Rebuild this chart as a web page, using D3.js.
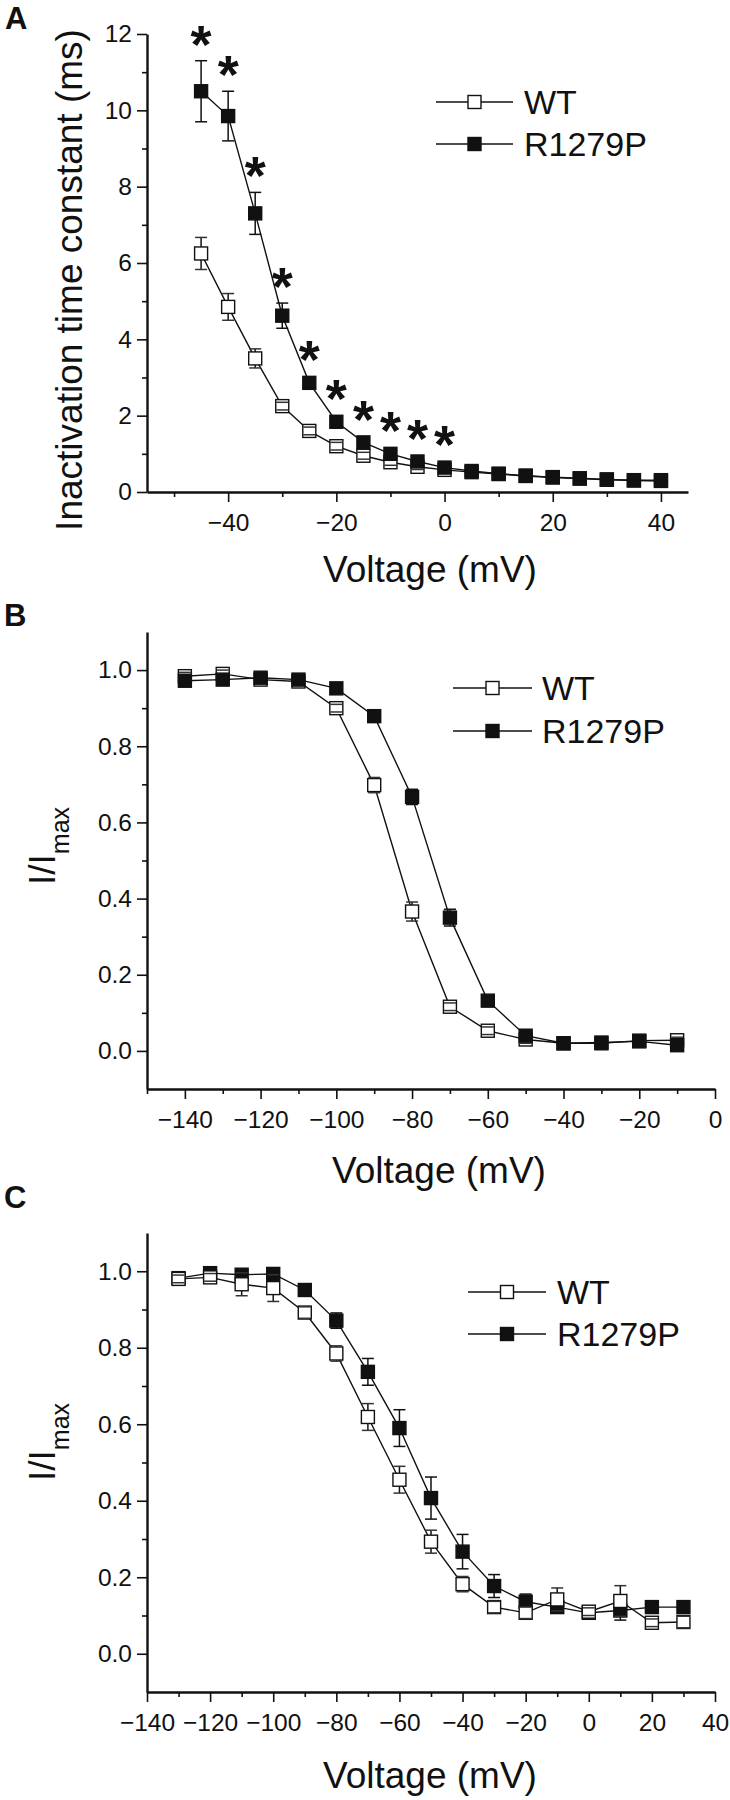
<!DOCTYPE html>
<html>
<head>
<meta charset="utf-8">
<script src="https://cdn.jsdelivr.net/npm/d3@7"></script>
<style>
  html, body { margin: 0; padding: 0; background: #fff; }
  svg { display: block; }
  text { font-family: "Liberation Sans", Arial, Helvetica, sans-serif; fill: #111; }
</style>
</head>
<body>
<svg id="chart" width="730" height="1800"></svg>
<script>
// ---------------- DATA ----------------
// Panel A: inactivation time constant (ms)
const voltA = [-45, -40, -35, -30, -25, -20, -15, -10, -5, 0, 5, 10, 15, 20, 25, 30, 35, 40];
const tauWT = [6.25, 4.85, 3.5, 2.25, 1.6, 1.2, 0.95, 0.78, 0.66, 0.58, 0.52, 0.47, 0.42, 0.38, 0.35, 0.32, 0.3, 0.29];
const tauWTErr = [0.42, 0.35, 0.25, 0.1, 0.1, 0.1, 0.09, 0.08, 0.07, 0.06, 0.04, 0.04, 0.03, 0.03, 0.03, 0.03, 0.03, 0.03];
const tauMut = [10.5, 9.85, 7.3, 4.62, 2.86, 1.84, 1.3, 1.0, 0.8, 0.64, 0.55, 0.48, 0.43, 0.39, 0.36, 0.33, 0.31, 0.31];
const tauMutErr = [0.8, 0.65, 0.55, 0.33, 0.12, 0.08, 0.08, 0.06, 0.05, 0.05, 0.04, 0.04, 0.04, 0.04, 0.04, 0.04, 0.04, 0.04];
const sigVoltA = [-45, -40, -35, -30, -25, -20, -15, -10, -5, 0];
const ticksA_x = [-40, -20, 0, 20, 40];
const minorA_x = [-50, -30, -10, 10, 30];
const ticksA_y = [0, 2, 4, 6, 8, 10, 12];
const minorA_y = [1, 3, 5, 7, 9, 11];

// Panel B: steady-state inactivation (I/Imax)
const voltB = [-140, -130, -120, -110, -100, -90, -80, -70, -60, -50, -40, -30, -20, -10];
const inactWT = [0.984, 0.99, 0.975, 0.97, 0.90, 0.698, 0.366, 0.116, 0.053, 0.03, 0.02, 0.02, 0.027, 0.028];
const inactWTErr = [0.01, 0.01, 0.01, 0.01, 0.01, 0.02, 0.025, 0.01, 0.01, 0.01, 0.008, 0.008, 0.008, 0.008];
const inactMut = [0.972, 0.975, 0.98, 0.975, 0.952, 0.879, 0.667, 0.35, 0.132, 0.04, 0.02, 0.022, 0.025, 0.015];
const inactMutErr = [0.01, 0.01, 0.008, 0.008, 0.008, 0.01, 0.02, 0.022, 0.01, 0.01, 0.008, 0.008, 0.008, 0.008];
const ticksB_x = [-140, -120, -100, -80, -60, -40, -20, 0];
const minorB_x = [-150, -130, -110, -90, -70, -50, -30, -10];

// Panel C: recovery / availability (I/Imax)
const voltC = [-130, -120, -110, -100, -90, -80, -70, -60, -50, -40, -30, -20, -10, 0, 10, 20, 30];
const recWT = [0.98, 0.984, 0.966, 0.956, 0.892, 0.785, 0.619, 0.455, 0.293, 0.182, 0.122, 0.107, 0.142, 0.11, 0.138, 0.081, 0.083];
const recWTErr = [0.01, 0.01, 0.03, 0.035, 0.015, 0.02, 0.035, 0.035, 0.03, 0.02, 0.015, 0.015, 0.03, 0.01, 0.04, 0.01, 0.015];
const recMut = [0.982, 0.995, 0.991, 0.993, 0.951, 0.871, 0.737, 0.59, 0.407, 0.267, 0.177, 0.136, 0.122, 0.107, 0.113, 0.122, 0.122];
const recMutErr = [0.01, 0.01, 0.01, 0.01, 0.01, 0.02, 0.035, 0.048, 0.055, 0.045, 0.03, 0.02, 0.015, 0.01, 0.025, 0.01, 0.01];
const ticksC_x = [-140, -120, -100, -80, -60, -40, -20, 0, 20, 40];
const minorC_x = [-130, -110, -90, -70, -50, -30, -10, 10, 30];

const ticksBC_y = [0, 0.2, 0.4, 0.6, 0.8, 1.0];
const minorBC_y = [0.1, 0.3, 0.5, 0.7, 0.9];

const seriesNames = ["WT", "R1279P"];

// ---------------- DRAWING ----------------
const svg = d3.select("#chart");
svg.append("rect").attr("width", 730).attr("height", 1800).attr("fill", "#fff");

const MK = 13;        // marker side
const CAP = 12;       // error cap width

function drawAxes(g, x, y, o) {
  const [x0, x1] = x.range();
  const [y0, y1] = y.range();
  g.append("g").attr("transform", `translate(0,${y0})`)
    .call(d3.axisBottom(x).tickValues(o.minorX).tickSize(5).tickFormat(""))
    .call(s => s.select(".domain").remove());
  g.append("g").attr("transform", `translate(${x0},0)`)
    .call(d3.axisLeft(y).tickValues(o.minorY).tickSize(5).tickFormat(""))
    .call(s => s.select(".domain").remove());
  const ax = g.append("g").attr("transform", `translate(0,${y0})`)
    .call(d3.axisBottom(x).tickValues(o.ticksX).tickSize(10).tickSizeOuter(0).tickPadding(12).tickFormat(d3.format("d")));
  const ay = g.append("g").attr("transform", `translate(${x0},0)`)
    .call(d3.axisLeft(y).tickValues(o.ticksY).tickSize(10).tickSizeOuter(0).tickPadding(5).tickFormat(o.fmtY));
  g.selectAll(".tick line").attr("stroke", "#111").attr("stroke-width", 1.6);
  g.selectAll(".domain").attr("stroke", "#111").attr("stroke-width", 2.4);
  [ax, ay].forEach(a => a.selectAll(".tick text").attr("font-size", 24.5).attr("fill", "#111")
    .attr("font-family", '"Liberation Sans", Arial, sans-serif'));
}

function drawSeries(g, x, y, xs, ys, es) {
  const pts = xs.map((v, i) => ({ x: v, y: ys[i], e: es[i] }));
  g.append("path").datum(pts)
    .attr("d", d3.line().x(d => x(d.x)).y(d => y(d.y)))
    .attr("fill", "none").attr("stroke", "#111").attr("stroke-width", 1.4);
  return pts;
}

function drawMarkers(g, x, y, pts, filled) {
  const mg = g.append("g");
  pts.forEach(d => {
    const cx = x(d.x), cy = y(d.y), top = y(d.y + d.e), bot = y(d.y - d.e);
    if (cy - top > MK / 2) mg.append("line").attr("x1", cx).attr("x2", cx).attr("y1", top).attr("y2", cy - MK / 2)
      .attr("stroke", "#111").attr("stroke-width", 1.5);
    if (bot - cy > MK / 2) mg.append("line").attr("x1", cx).attr("x2", cx).attr("y1", cy + MK / 2).attr("y2", bot)
      .attr("stroke", "#111").attr("stroke-width", 1.5);
  });
  mg.selectAll("rect.m").data(pts).join("rect").attr("class", "m")
    .attr("x", d => x(d.x) - MK / 2).attr("y", d => y(d.y) - MK / 2)
    .attr("width", MK).attr("height", MK)
    .attr("fill", filled ? "#111" : "#fff").attr("stroke", "#111").attr("stroke-width", 1.4);
  pts.forEach(d => {
    const cx = x(d.x);
    [y(d.y + d.e), y(d.y - d.e)].forEach(cy => {
      mg.append("line").attr("x1", cx - CAP / 2).attr("x2", cx + CAP / 2).attr("y1", cy).attr("y2", cy)
        .attr("stroke", filled ? "#111" : "#333").attr("stroke-width", 1.5);
    });
  });
}

function drawLegend(g, lx0, lx1, tx, yWT, yMut) {
  [[yWT, false, seriesNames[0]], [yMut, true, seriesNames[1]]].forEach(([yy, filled, name]) => {
    g.append("line").attr("x1", lx0).attr("x2", lx1).attr("y1", yy).attr("y2", yy)
      .attr("stroke", "#111").attr("stroke-width", 1.4);
    const cx = (lx0 + lx1) / 2;
    g.append("rect").attr("x", cx - MK / 2).attr("y", yy - MK / 2).attr("width", MK).attr("height", MK)
      .attr("fill", filled ? "#111" : "#fff").attr("stroke", "#111").attr("stroke-width", 1.4);
    g.append("text").attr("x", tx).attr("y", yy + 12).attr("font-size", 34).text(name);
  });
}

function yLabelImax(g, cx, cy) {
  const t = g.append("text").attr("transform", `translate(${cx},${cy}) rotate(-90)`)
    .attr("text-anchor", "middle").attr("font-size", 37);
  t.append("tspan").text("I/I");
  t.append("tspan").attr("font-size", 25).attr("dy", 14).text("max");
}

// ----- Panel A -----
{
  const g = svg.append("g");
  const x = d3.scaleLinear().domain([-55, 45]).range([147, 688]);
  const y = d3.scaleLinear().domain([0, 12]).range([492, 34]);
  drawAxes(g, x, y, { ticksX: ticksA_x, minorX: minorA_x, ticksY: ticksA_y, minorY: minorA_y, fmtY: d3.format("d") });
  const pw = drawSeries(g, x, y, voltA, tauWT, tauWTErr);
  const pm = drawSeries(g, x, y, voltA, tauMut, tauMutErr);
  drawMarkers(g, x, y, pw, false);
  drawMarkers(g, x, y, pm, true);
  sigVoltA.forEach(v => {
    const i = voltA.indexOf(v);
    const topPx = Math.min(y(tauMut[i] + tauMutErr[i]), y(tauMut[i]) - MK / 2);
    g.append("text").attr("x", x(v)).attr("y", topPx + 2).attr("text-anchor", "middle")
      .attr("font-size", 54).attr("font-weight", "bold").text("*");
  });
  drawLegend(g, 436, 513, 524, 102, 144);
  g.append("text").attr("transform", `translate(82,280) rotate(-90)`).attr("text-anchor", "middle")
    .attr("font-size", 37).text("Inactivation time constant (ms)");
  g.append("text").attr("x", 430).attr("y", 582).attr("text-anchor", "middle").attr("font-size", 37).text("Voltage (mV)");
  g.append("text").attr("x", 5).attr("y", 29).attr("font-size", 31).attr("font-weight", "bold").text("A");
}

// ----- Panel B -----
{
  const g = svg.append("g");
  const x = d3.scaleLinear().domain([-150, 0]).range([147, 715]);
  const y = d3.scaleLinear().domain([-0.1, 1.1]).range([1089, 632]);
  drawAxes(g, x, y, { ticksX: ticksB_x, minorX: minorB_x, ticksY: ticksBC_y, minorY: minorBC_y, fmtY: d3.format(".1f") });
  const pw = drawSeries(g, x, y, voltB, inactWT, inactWTErr);
  const pm = drawSeries(g, x, y, voltB, inactMut, inactMutErr);
  drawMarkers(g, x, y, pw, false);
  drawMarkers(g, x, y, pm, true);
  drawLegend(g, 453, 532, 542, 688, 731);
  yLabelImax(g, 55, 846);
  g.append("text").attr("x", 439).attr("y", 1183).attr("text-anchor", "middle").attr("font-size", 37).text("Voltage (mV)");
  g.append("text").attr("x", 4).attr("y", 626).attr("font-size", 31).attr("font-weight", "bold").text("B");
}

// ----- Panel C -----
{
  const g = svg.append("g");
  const x = d3.scaleLinear().domain([-140, 40]).range([147, 715]);
  const y = d3.scaleLinear().domain([-0.1, 1.1]).range([1692, 1233]);
  drawAxes(g, x, y, { ticksX: ticksC_x, minorX: minorC_x, ticksY: ticksBC_y, minorY: minorBC_y, fmtY: d3.format(".1f") });
  const pw = drawSeries(g, x, y, voltC, recWT, recWTErr);
  const pm = drawSeries(g, x, y, voltC, recMut, recMutErr);
  drawMarkers(g, x, y, pm, true);
  drawMarkers(g, x, y, pw, false);
  drawLegend(g, 468, 546, 557, 1292, 1334);
  yLabelImax(g, 55, 1442);
  g.append("text").attr("x", 430).attr("y", 1788).attr("text-anchor", "middle").attr("font-size", 37).text("Voltage (mV)");
  g.append("text").attr("x", 4).attr("y", 1208).attr("font-size", 31).attr("font-weight", "bold").text("C");
}
</script>
</body>
</html>
